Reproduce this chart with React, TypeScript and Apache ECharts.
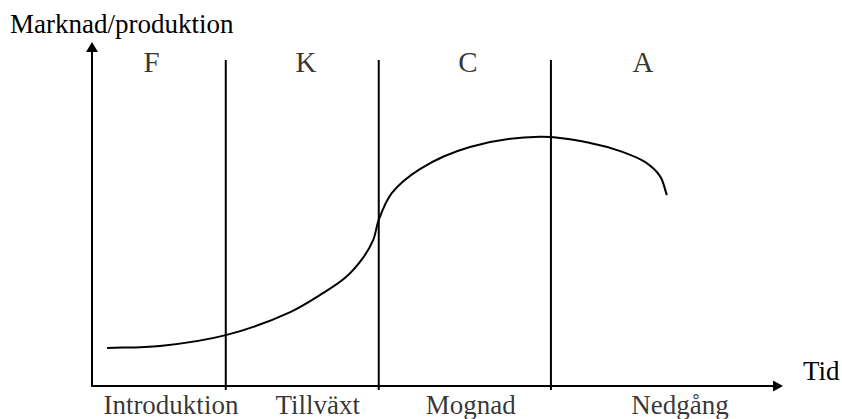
import React, { useEffect, useRef } from "react";
import * as echarts from "echarts";

// Product life cycle curve (time, market/production) in axis units (0-100)
const curveX = [2.2, 9.9, 19.5, 28.9, 33.2, 36.9, 39.5, 41.0, 41.8, 43.7, 47.8, 55.1, 65.3, 72.6, 77.0, 80.6, 82.8, 83.8];
const curveY = [11.2, 11.8, 15.0, 21.8, 26.8, 31.9, 37.8, 43.1, 49.0, 56.9, 64.0, 70.5, 73.5, 71.7, 69.3, 66.1, 61.9, 56.3];

// Stage boundaries on the time axis
const boundaries = [19.5, 41.8, 66.9];
const boundaryBottom = -1.2;
const boundaryTop = 96.2;

// Stage letters at top
const letters = ["F", "K", "C", "A"];
const letterX = [8.7, 31.2, 54.8, 80.3];
const letterY = 95.5;

// Stage names under the time axis
const stageNames = ["Introduktion", "Tillväxt", "Mognad", "Nedgång"];
const stageNameX = [11.5, 32.9, 55.2, 85.7];
const stageNameY = -5.6;

const yTitle = "Marknad/produktion";
const xTitle = "Tid";

const FONT = "'Liberation Serif', 'Times New Roman', serif";

// Centripetal Catmull-Rom spline through pixel points -> SVG path data
function splinePath(pts: number[][]): string {
  const n = pts.length;
  if (n < 2) return "";
  const get = (i: number) => {
    if (i < 0) return [2 * pts[0][0] - pts[1][0], 2 * pts[0][1] - pts[1][1]];
    if (i >= n) return [2 * pts[n - 1][0] - pts[n - 2][0], 2 * pts[n - 1][1] - pts[n - 2][1]];
    return pts[i];
  };
  const dist = (a: number[], b: number[]) => Math.pow(Math.hypot(b[0] - a[0], b[1] - a[1]), 0.5) || 1e-6;
  let d = `M${pts[0][0]},${pts[0][1]}`;
  for (let i = 0; i < n - 1; i++) {
    const p0 = get(i - 1), p1 = get(i), p2 = get(i + 1), p3 = get(i + 2);
    const d1 = dist(p0, p1), d2 = dist(p1, p2), d3 = dist(p2, p3);
    const c1 = [0, 1].map(
      (k) => (d1 * d1 * p2[k] - d2 * d2 * p0[k] + (2 * d1 * d1 + 3 * d1 * d2 + d2 * d2) * p1[k]) / (3 * d1 * (d1 + d2))
    );
    const c2 = [0, 1].map(
      (k) => (d3 * d3 * p1[k] - d2 * d2 * p3[k] + (2 * d3 * d3 + 3 * d3 * d2 + d2 * d2) * p2[k]) / (3 * d3 * (d3 + d2))
    );
    d += ` C${c1[0]},${c1[1]} ${c2[0]},${c2[1]} ${p2[0]},${p2[1]}`;
  }
  return d;
}

export default function App() {
  const ref = useRef<HTMLDivElement>(null);

  useEffect(() => {
    if (!ref.current) return;
    const chart = echarts.init(ref.current, null, { renderer: "svg" });

    const boundarySeries = boundaries.map((b) => ({
      type: "line",
      data: [
        [b, boundaryBottom],
        [b, boundaryTop],
      ],
      showSymbol: false,
      symbol: "none",
      clip: false,
      silent: true,
      lineStyle: { color: "#000", width: 2 },
      z: 2,
    }));

    const axisLineStyle = { color: "#000", width: 2 };
    const curveData = curveX.map((x, i) => [x, curveY[i]]);

    chart.setOption({
      animation: false,
      backgroundColor: "#fff",
      grid: { left: 92, right: 64, top: 47, bottom: 33 },
      xAxis: {
        type: "value",
        min: 0,
        max: 100,
        axisLine: {
          show: true,
          onZero: false,
          symbol: ["none", "triangle"],
          symbolSize: [11, 10],
          lineStyle: axisLineStyle,
        },
        axisTick: { show: false },
        axisLabel: { show: false },
        splitLine: { show: false },
      },
      yAxis: {
        type: "value",
        min: 0,
        max: 100,
        axisLine: {
          show: true,
          onZero: false,
          symbol: ["none", "triangle"],
          symbolSize: [12, 10],
          lineStyle: axisLineStyle,
        },
        axisTick: { show: false },
        axisLabel: { show: false },
        splitLine: { show: false },
      },
      graphic: [
        {
          type: "text",
          left: 10,
          top: 10,
          style: {
            text: yTitle,
            font: `27px ${FONT}`,
            fill: "#000",
          },
        },
        {
          type: "text",
          left: 803,
          top: 357,
          style: {
            text: xTitle,
            font: `27px ${FONT}`,
            fill: "#000",
          },
        },
      ],
      series: [
        {
          type: "custom",
          data: curveData,
          clip: false,
          silent: true,
          z: 3,
          encode: { x: 0, y: 1 },
          renderItem: (params: any, api: any) => {
            if (params.dataIndex !== 0) return null;
            const pts = curveData.map((p) => api.coord(p));
            return {
              type: "path",
              shape: { pathData: splinePath(pts) },
              style: { stroke: "#000", lineWidth: 2, fill: "none" },
            };
          },
        },
        ...boundarySeries,
        {
          type: "scatter",
          data: letters.map((t, i) => ({ value: [letterX[i], letterY], name: t })),
          symbolSize: 0,
          clip: false,
          silent: true,
          label: {
            show: true,
            position: "inside",
            formatter: (p: any) => p.name,
            color: "#000",
            fontSize: 29,
            fontFamily: FONT,
          },
        },
        {
          type: "scatter",
          data: stageNames.map((t, i) => ({ value: [stageNameX[i], stageNameY], name: t })),
          symbolSize: 0,
          clip: false,
          silent: true,
          label: {
            show: true,
            position: "inside",
            formatter: (p: any) => p.name,
            color: "#000",
            fontSize: 27,
            fontFamily: FONT,
          },
        },
      ],
    });

    return () => chart.dispose();
  }, []);

  return <div ref={ref} style={{ width: 842, height: 419, position: "absolute", left: 0, top: 0 }} />;
}
